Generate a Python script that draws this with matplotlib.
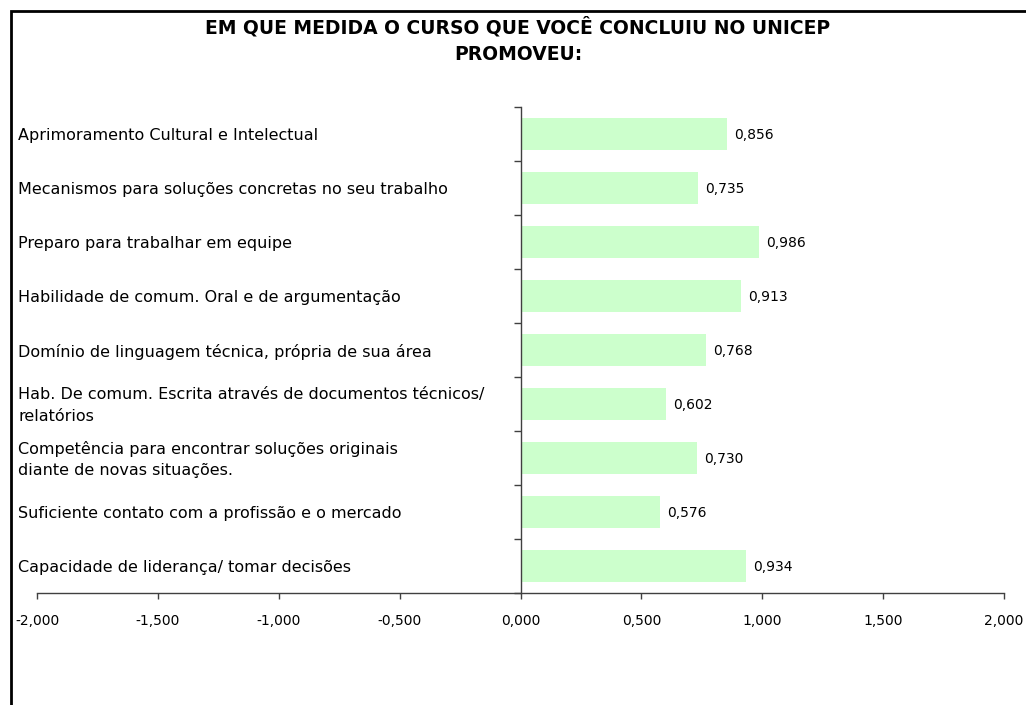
import matplotlib
matplotlib.use('Agg')
import matplotlib.pyplot as plt
import matplotlib.transforms as mtransforms
from matplotlib.patches import Rectangle
from matplotlib.ticker import FixedLocator, FuncFormatter

title = 'EM QUE MEDIDA O CURSO QUE VOCÊ CONCLUIU NO UNICEP\nPROMOVEU:'
categories = [
    'Aprimoramento Cultural e Intelectual',
    'Mecanismos para soluções concretas no seu trabalho',
    'Preparo para trabalhar em equipe',
    'Habilidade de comum. Oral e de argumentação',
    'Domínio de linguagem técnica, própria de sua área',
    'Hab. De comum. Escrita através de documentos técnicos/\nrelatórios',
    'Competência para encontrar soluções originais\ndiante de novas situações.',
    'Suficiente contato com a profissão e o mercado',
    'Capacidade de liderança/ tomar decisões',
]
values = [0.856, 0.735, 0.986, 0.913, 0.768, 0.602, 0.730, 0.576, 0.934]
x_ticks = [-2.0, -1.5, -1.0, -0.5, 0.0, 0.5, 1.0, 1.5, 2.0]

plt.rcParams['font.family'] = ['DejaVu Sans']


def br(v):
    return f'{v:.3f}'.replace('.', ',')


fig = plt.figure(figsize=(10.26, 7.05), dpi=100)
ax = fig.add_axes([0.0361, 0.1589, 0.9425, 0.6893])

ypos = list(range(len(categories)))
ax.barh(ypos, values, height=0.61, color='#CCFFCC', edgecolor='none', zorder=2)

for y, v in zip(ypos, values):
    ax.annotate(br(v), xy=(v, y), xytext=(5, -1), textcoords='offset points',
                va='center', ha='left', fontsize=10)

ax.set_xlim(-2, 2)
ax.set_ylim(len(categories) - 0.5, -0.5)

ax.spines['top'].set_visible(False)
ax.spines['right'].set_visible(False)
ax.spines['left'].set_position(('data', 0))
for s in ('left', 'bottom'):
    ax.spines[s].set_color('#404040')
    ax.spines[s].set_linewidth(1)

ax.set_xticks(x_ticks)
ax.xaxis.set_major_formatter(FuncFormatter(lambda v, p: br(v)))
ax.tick_params(axis='x', direction='out', length=4, width=1, color='#404040',
               labelsize=10, pad=11)

ax.set_yticks([])
ax.yaxis.set_minor_locator(FixedLocator([i - 0.5 for i in range(len(categories) + 1)]))
ax.tick_params(axis='y', which='minor', direction='out', length=5, width=1,
               color='#404040', labelleft=False)

# category names, left aligned near the frame
lab_tr = mtransforms.blended_transform_factory(fig.transFigure, ax.transData)
for y, label in zip(ypos, categories):
    ax.text(18 / 1026, y + 0.03, label, transform=lab_tr, fontsize=11.5,
            ha='left', va='center', linespacing=1.55)

fig.text(518 / 1026, 1 - 40 / 705, title, ha='center', va='center', fontsize=13.5,
         fontweight='bold', linespacing=1.5)

fig.patches.append(Rectangle((11 / 1026, -0.1), 1.2, 1 - 11 / 705 + 0.1,
                             transform=fig.transFigure, fill=False,
                             edgecolor='black', linewidth=2))

fig.savefig('out.png', dpi=100)
